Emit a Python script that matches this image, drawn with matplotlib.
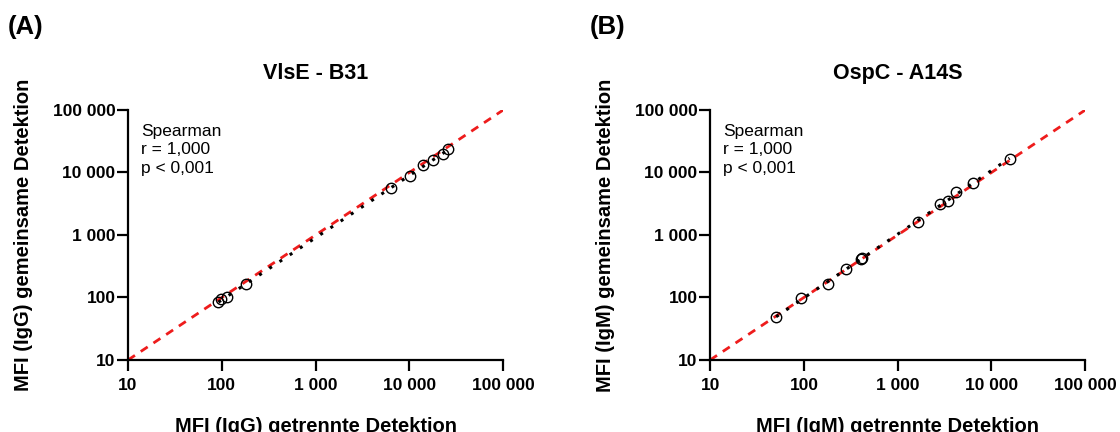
import numpy as np
import matplotlib.pyplot as plt

plt.rcParams['font.family'] = ['Liberation Sans', 'DejaVu Sans']

# Panel A: VlsE - B31 (IgG)
vlse_x = [92, 98, 113, 182, 6400, 10050, 14060, 17800, 22650, 26000]
vlse_y = [84, 94, 101, 163, 5590, 8790, 13030, 15660, 19770, 24040]

# Panel B: OspC - A14S (IgM)
ospc_x = [50.6, 93.5, 180, 282, 410, 420, 1630, 2795, 3480, 4170, 6380, 15600]
ospc_y = [49.2, 97.5, 162, 281, 420, 435, 1625, 3140, 3515, 4800, 6710, 16250]

tick_vals = [10, 100, 1000, 10000, 100000]
tick_labels = ["10", "100", "1 000", "10 000", "100 000"]

panels = [
    ("(A)", "VlsE - B31", "IgG", vlse_x, vlse_y, 0.1143),
    ("(B)", "OspC - A14S", "IgM", ospc_x, ospc_y, 0.634),
]

fig = plt.figure(figsize=(11.2, 4.32), dpi=100)

for tag, title, ig, xs, ys, left in panels:
    ax = fig.add_axes([left, 0.1667, 0.335, 0.5787])
    ax.set_xscale('log')
    ax.set_yscale('log')
    ax.set_xlim(10, 100000)
    ax.set_ylim(10, 100000)

    # identity line
    ax.plot(tick_vals, tick_vals, color='#ee1c1c', ls=(0, (3, 2.5)), lw=2, zorder=2)

    # regression line in log space
    lx = np.log10(xs)
    ly = np.log10(ys)
    k, d = np.polyfit(lx, ly, 1)
    fx = np.linspace(lx.min(), lx.max(), 50)
    ax.plot(10 ** fx, 10 ** (k * fx + d), color='black', ls=(0, (1, 3)), lw=2.2, zorder=3)

    ax.plot(xs, ys, 'o', mfc='none', mec='black', ms=7.5, mew=1.0, zorder=4)

    ax.set_xticks(tick_vals)
    ax.set_xticklabels(tick_labels)
    ax.set_yticks(tick_vals)
    ax.set_yticklabels(tick_labels)
    ax.minorticks_off()
    for lab in ax.get_xticklabels() + ax.get_yticklabels():
        lab.set_fontweight('bold')
        lab.set_fontsize(12.5)
    ax.tick_params(width=1.6, length=8)
    ax.tick_params(axis='x', pad=5)
    ax.tick_params(axis='y', pad=1)
    ax.spines['top'].set_visible(False)
    ax.spines['right'].set_visible(False)
    ax.spines['left'].set_linewidth(1.6)
    ax.spines['bottom'].set_linewidth(1.6)

    ax.set_title(title, fontsize=15.5, fontweight='bold', pad=22)
    ax.set_xlabel("MFI (%s) getrennte Detektion" % ig, fontsize=14.5, fontweight='bold', labelpad=17)
    ax.set_ylabel("MFI (%s) gemeinsame Detektion" % ig, fontsize=14.5, fontweight='bold', labelpad=14)
    ax.text(0.035, 0.945, "Spearman\nr = 1,000\np < 0,001", transform=ax.transAxes,
            fontsize=12.5, va='top', ha='left', linespacing=1.3)

    fig.text(left - 0.107, 0.937, tag, fontsize=18.5, fontweight='bold', ha='left', va='center')

fig.savefig('out.png', dpi=100)
